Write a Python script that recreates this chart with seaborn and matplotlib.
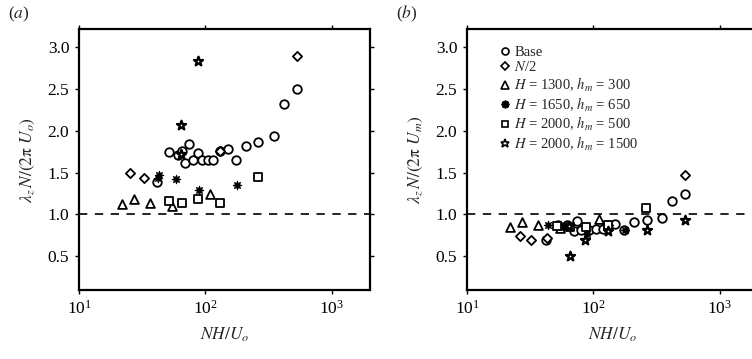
import numpy as np
import pandas as pd
import matplotlib
matplotlib.use("Agg")
import matplotlib.pyplot as plt
from matplotlib.lines import Line2D
import seaborn as sns

sns.set_theme(style="ticks")
plt.rcParams["font.family"] = ["Liberation Serif", "DejaVu Serif"]
plt.rcParams["mathtext.fontset"] = "stix"

# ---- panel (a): lambda_z N / (2 pi U_o) against NH/U_o ----
a_base_x = [41.6, 51.2, 60.3, 65.3, 68.6, 74.1, 79.8, 86.9, 94.6, 104.4, 115.1, 130, 149.5, 174.3, 207.7, 260, 348.5, 415.8, 524.8]
a_base_y = [1.39, 1.74, 1.71, 1.76, 1.61, 1.84, 1.65, 1.73, 1.65, 1.65, 1.65, 1.76, 1.78, 1.65, 1.82, 1.86, 1.93, 2.32, 2.49]
a_half_x = [25.5, 32.4, 130, 524.8]
a_half_y = [1.50, 1.43, 1.76, 2.89]
a_h1300_x = [21.8, 27.4, 36.4, 54.7, 109.6]
a_h1300_y = [1.12, 1.19, 1.14, 1.10, 1.24]
a_h1650_x = [42.0, 43.1, 58.2, 89.2, 176]
a_h1650_y = [1.44, 1.47, 1.42, 1.29, 1.35]
a_h2000_x = [51.2, 64.9, 86.9, 130, 260]
a_h2000_y = [1.16, 1.14, 1.18, 1.14, 1.45]
a_h2000b_x = [64.5, 64.5, 86.9]
a_h2000b_y = [1.72, 2.07, 2.83]

# ---- panel (b): lambda_z N / (2 pi U_m) against NH/U_o ----
b_base_x = [42.2, 52.1, 62.0, 69.7, 74.5, 79.6, 92.7, 104.7, 118.2, 130.9, 148.8, 172.8, 208.9, 266.6, 345.9, 417.5, 526]
b_base_y = [0.69, 0.87, 0.87, 0.80, 0.92, 0.82, 0.82, 0.83, 0.83, 0.86, 0.89, 0.82, 0.91, 0.93, 0.96, 1.16, 1.24]
b_half_x = [26.2, 32.3, 43.2, 130, 526]
b_half_y = [0.74, 0.70, 0.72, 0.87, 1.47]
b_h1300_x = [21.9, 27.4, 36.7, 54.3, 111.2]
b_h1300_y = [0.85, 0.91, 0.87, 0.84, 0.95]
b_h1650_x = [44.0, 58.0, 89.0, 176]
b_h1650_y = [0.87, 0.85, 0.77, 0.82]
b_h2000_x = [51.2, 64.9, 86.9, 130, 262]
b_h2000_y = [0.86, 0.85, 0.85, 0.88, 1.08]
b_h2000b_x = [64.9, 64.5, 86.1, 129.4, 263, 526]
b_h2000b_y = [0.51, 0.86, 0.70, 0.80, 0.82, 0.93]

labels = ["Base", r"$N$/2",
          r"$H$ = 1300, $h_m$ = 300",
          r"$H$ = 1650, $h_m$ = 650",
          r"$H$ = 2000, $h_m$ = 500",
          r"$H$ = 2000, $h_m$ = 1500"]
markers = ["o", "D", "^", (8, 1, 0), "s", "*"]
sizes = [38, 22, 40, 40, 30, 48]
filled = [False, False, False, True, False, False]
edge_w = [1.3, 1.3, 1.3, 0.6, 1.3, 1.6]
legend_ms = [5.0, 4.2, 5.6, 5.6, 4.6, 6.4]

panels = [
    [(a_base_x, a_base_y), (a_half_x, a_half_y), (a_h1300_x, a_h1300_y),
     (a_h1650_x, a_h1650_y), (a_h2000_x, a_h2000_y), (a_h2000b_x, a_h2000b_y)],
    [(b_base_x, b_base_y), (b_half_x, b_half_y), (b_h1300_x, b_h1300_y),
     (b_h1650_x, b_h1650_y), (b_h2000_x, b_h2000_y), (b_h2000b_x, b_h2000b_y)],
]
ylabels = [r"$\lambda_z\,N/(2\mathrm{\pi}\ U_o)$", r"$\lambda_z\,N/(2\mathrm{\pi}\ U_m)$"]
tags = [r"($a$)", r"($b$)"]

fig = plt.figure(figsize=(7.52, 3.59), dpi=100)
W, H = 752, 359
boxes = [(79, 29, 291, 261), (467, 29, 291, 261)]

for k, (series, (l, t, w, h)) in enumerate(zip(panels, boxes)):
    ax = fig.add_axes([l / W, 1 - (t + h) / H, w / W, h / H])
    for (xs, ys), lab, m, s, f, ew in zip(series, labels, markers, sizes, filled, edge_w):
        df = pd.DataFrame({"x": xs, "y": ys})
        sns.scatterplot(data=df, x="x", y="y", marker=m, s=s,
                        color="black" if f else "white",
                        edgecolor="black", linewidth=ew, ax=ax, zorder=3)
    ax.set_xscale("log")
    ax.set_xlim(10, 2000)
    ax.set_ylim(0.1, 3.21)
    ax.axhline(1.0, color="black", lw=1.2, dashes=(5, 4.5), zorder=2)
    ax.set_xticks([10, 100, 1000])
    ax.xaxis.set_minor_locator(matplotlib.ticker.NullLocator())
    ax.set_yticks([0.5, 1.0, 1.5, 2.0, 2.5, 3.0])
    ax.set_yticklabels(["0.5", "1.0", "1.5", "2.0", "2.5", "3.0"])
    ax.tick_params(direction="out", length=3, width=1, labelsize=12.5,
                   top=True, right=True, colors="black", pad=4)
    for sp in ax.spines.values():
        sp.set_visible(True)
        sp.set_linewidth(1.6)
        sp.set_color("black")
    ax.set_xlabel(r"$NH/U_o$", fontsize=12.5, labelpad=6)
    ax.set_ylabel(ylabels[k], fontsize=12.5, labelpad=8)
    ax.set_facecolor("white")
    fig.text((l - 71) / W, 1 - 14 / H, tags[k], fontsize=12.5, va="center", ha="left")

    if k == 1:
        handles = []
        for m, ms, f in zip(markers, legend_ms, filled):
            handles.append(Line2D([], [], ls="none", marker=m, markersize=ms,
                                  markerfacecolor="black" if f else "white",
                                  markeredgecolor="black", markeredgewidth=1.2))
        ax.legend(handles, labels, loc="upper left", frameon=False,
                  fontsize=10.5, handletextpad=0.15, labelspacing=0.1,
                  borderaxespad=0.3, handlelength=1.0,
                  bbox_to_anchor=(0.07, 0.975))

fig.savefig("out.png", dpi=100, facecolor="white")
